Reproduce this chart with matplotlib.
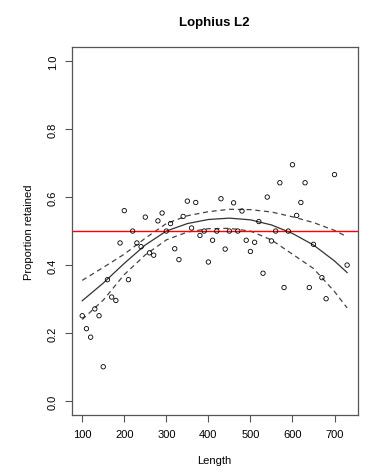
import numpy as np
import matplotlib
matplotlib.use("Agg")
import matplotlib.pyplot as plt

plt.rcParams['font.family'] = ['Liberation Sans', 'DejaVu Sans']

# observed proportions
length = [100, 110, 120, 130, 140, 150, 160, 170, 180, 190, 200, 210, 220, 230,
          240, 250, 260, 270, 280, 290, 300, 310, 320, 330, 340, 350, 360, 370,
          380, 390, 400, 410, 420, 430, 440, 450, 460, 470, 480, 490, 500, 510,
          520, 530, 540, 550, 560, 570, 580, 590, 600, 610, 620, 630, 640, 650,
          670, 680, 700, 730]
prop = [0.251, 0.213, 0.188, 0.271, 0.251, 0.101, 0.357, 0.306, 0.296, 0.465,
        0.560, 0.357, 0.500, 0.465, 0.454, 0.541, 0.436, 0.429, 0.530, 0.553,
        0.500, 0.522, 0.448, 0.416, 0.543, 0.588, 0.509, 0.584, 0.487, 0.500,
        0.409, 0.473, 0.500, 0.595, 0.447, 0.500, 0.583, 0.500, 0.559, 0.473,
        0.440, 0.467, 0.528, 0.376, 0.600, 0.471, 0.500, 0.642, 0.334, 0.500,
        0.695, 0.546, 0.584, 0.642, 0.334, 0.461, 0.363, 0.301, 0.666, 0.400]

# fitted curve and confidence band
fit_x = [100, 150, 200, 250, 300, 350, 400, 450, 500, 550, 600, 650, 700, 730]
fit_y = [0.295, 0.347, 0.405, 0.459, 0.500, 0.522, 0.534, 0.538, 0.533, 0.518,
         0.493, 0.459, 0.412, 0.378]
upr_y = [0.355, 0.393, 0.432, 0.479, 0.522, 0.545, 0.557, 0.564, 0.563, 0.556,
         0.542, 0.525, 0.502, 0.483]
lwr_y = [0.240, 0.297, 0.372, 0.430, 0.474, 0.497, 0.507, 0.508, 0.500, 0.474,
         0.432, 0.390, 0.322, 0.274]

fig = plt.figure(figsize=(3.83, 4.77), dpi=100)
ax = fig.add_axes([0.187, 0.1285, 0.747, 0.770])

ax.scatter(length, prop, s=10, facecolors='none', edgecolors='black',
           linewidths=0.6, zorder=3)
ax.plot(fit_x, fit_y, color='#333333', lw=0.9)
ax.plot(fit_x, upr_y, color='#444444', lw=0.9, ls=(0, (4, 3)))
ax.plot(fit_x, lwr_y, color='#444444', lw=0.9, ls=(0, (4, 3)))
ax.axhline(0.5, color='#ff0000', lw=1.0, zorder=2.5)

ax.set_xlim(74.8, 755.2)
ax.set_ylim(-0.04, 1.04)
ax.set_xticks(np.arange(100, 701, 100))
ax.set_yticks(np.arange(0, 1.01, 0.2))
ax.set_yticklabels(['0.0', '0.2', '0.4', '0.6', '0.8', '1.0'],
                   rotation=90, va='center')
ax.tick_params(direction='out', length=5, width=0.8, color='#555555',
               labelsize=8, pad=5)
for sp in ax.spines.values():
    sp.set_color('#555555')
    sp.set_linewidth(0.9)

ax.set_xlabel('Length', fontsize=8, labelpad=12)
ax.set_ylabel('Proportion retained', fontsize=8, labelpad=10)
ax.set_title('Lophius L2', fontsize=9.5, fontweight='bold', pad=16)

fig.savefig('out.png', dpi=100)
